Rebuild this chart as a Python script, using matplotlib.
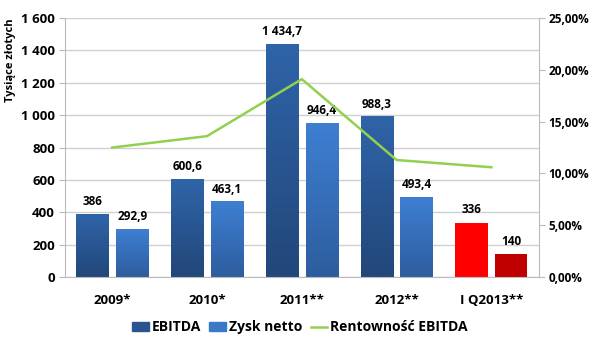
import numpy as np
import matplotlib.pyplot as plt
from matplotlib.colors import LinearSegmentedColormap
from matplotlib.lines import Line2D
from matplotlib.patches import Patch

plt.rcParams['font.family'] = ['Open Sans', 'DejaVu Sans']
plt.rcParams['font.weight'] = 'bold'

categories = ['2009*', '2010*', '2011**', '2012**', 'I Q2013**']
ebitda = [386, 600.6, 1434.7, 988.3, 336]
zysk = [292.9, 463.1, 946.4, 493.4, 140]
ebitda_labels = ['386', '600,6', '1 434,7', '988,3', '336']
zysk_labels = ['292,9', '463,1', '946,4', '493,4', '140']
rentownosc = [12.5, 13.6, 19.1, 11.3, 10.6]

fig = plt.figure(figsize=(6, 3.59), dpi=100)
ax = fig.add_axes([0.108, 0.228, 0.79, 0.722])
x = np.arange(len(categories))
w = 0.34
off = 0.21

def grad_bar(ax, xc, h, c_top, c_bot):
    cmap = LinearSegmentedColormap.from_list('g', [c_bot, c_top])
    grad = np.linspace(0, 1, 100).reshape(-1, 1)
    ax.imshow(grad, cmap=cmap, origin='lower', aspect='auto',
              extent=[xc - w / 2, xc + w / 2, 0, h], zorder=2)

for i in range(len(categories)):
    if i < 4:
        grad_bar(ax, x[i] - off, ebitda[i], '#2f64a8', '#22477a')
        grad_bar(ax, x[i] + off, zysk[i], '#3e7fd2', '#2d5d9e')
    else:
        ax.bar(x[i] - off, ebitda[i], w, color='#ff0000', zorder=2)
        ax.bar(x[i] + off, zysk[i], w, color='#c00000', zorder=2)
    ax.text(x[i] - off, ebitda[i] + 40, ebitda_labels[i], ha='center', va='bottom', fontsize=8.5)
    ax.text(x[i] + off, zysk[i] + 40, zysk_labels[i], ha='center', va='bottom', fontsize=8.5)

ax.set_xlim(-0.5, len(categories) - 0.5)
ax.set_ylim(0, 1600)
ax.set_yticks(range(0, 1601, 200))
ax.set_yticklabels(['0', '200', '400', '600', '800', '1 000', '1 200', '1 400', '1 600'], fontsize=9.5)
ax.set_xticks(x)
ax.set_xticklabels(categories, fontsize=9.5)
ax.tick_params(axis='x', length=0, pad=12)
ax.tick_params(axis='y', length=4, color='#bbbbbb', pad=3)
ax.yaxis.grid(True, color='#d0d0d0', linewidth=1, zorder=0)
ax.set_axisbelow(True)
for s in ['left', 'bottom', 'right']:
    ax.spines[s].set_color('#bbbbbb')
ax.spines['top'].set_visible(False)
ax.set_ylabel('Tysiące złotych', fontsize=8, fontweight='bold', labelpad=4, loc='top')

ax2 = ax.twinx()
ax2.plot(x, rentownosc, color='#92d050', linewidth=1.8)
ax2.set_ylim(0, 25)
ax2.set_yticks(range(0, 26, 5))
ax2.set_yticklabels(['%d,00%%' % v for v in range(0, 26, 5)], fontsize=8.5)
ax2.tick_params(axis='y', length=4, color='#bbbbbb', pad=3)
for s in ['left', 'bottom', 'right', 'top']:
    ax2.spines[s].set_visible(False)

handles = [Patch(facecolor='#2a5490', edgecolor='#2a5490'),
           Patch(facecolor='#3a78c8', edgecolor='#3a78c8'),
           Line2D([0], [0], color='#92d050', linewidth=1.8)]
fig.legend(handles, ['EBITDA', 'Zysk netto', 'Rentowność EBITDA'], loc='center',
           bbox_to_anchor=(0.5, 0.088), ncol=3, frameon=False, fontsize=10,
           handlelength=1.2, handletextpad=0.2, columnspacing=0.6)

fig.savefig('out.png', dpi=100)
